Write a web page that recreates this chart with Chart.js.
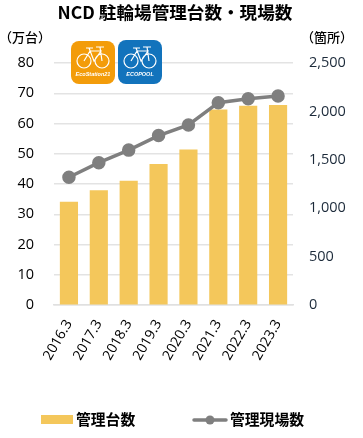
<!DOCTYPE html>
<html>
<head>
<meta charset="utf-8">
<style>
  html, body { margin: 0; padding: 0; background: #fff; }
  canvas { display: block; }
</style>
<script src="https://cdn.jsdelivr.net/npm/chart.js@4/dist/chart.umd.min.js"></script>
</head>
<body>
<canvas id="chart" width="363" height="438"></canvas>
<script>
const categories = ['2016.3', '2017.3', '2018.3', '2019.3', '2020.3', '2021.3', '2022.3', '2023.3'];
const managedUnits = [34, 37.8, 41, 46.5, 51.3, 64.5, 65.8, 66];   // 万台
const managedSites = [1320, 1470, 1600, 1750, 1860, 2090, 2130, 2160];   // 箇所
const titleText = 'NCD 駐輪場管理台数・現場数';
const leftUnit = '（万台）';
const rightUnit = '（箇所）';

const CJK = '"Noto Sans CJK JP", "Noto Sans", sans-serif';
const BAR_COLOR = '#f4c75b';
const LINE_COLOR = '#7f7f7f';

function roundedBox(ctx, x, y, w, h, r, color) {
  ctx.fillStyle = color;
  ctx.beginPath();
  ctx.roundRect(x, y, w, h, r);
  ctx.fill();
}

// Small white bicycle, used on both logos
function drawBike(ctx, x, y) {
  ctx.strokeStyle = '#fff';
  ctx.lineWidth = 1.2;
  ctx.beginPath();
  ctx.arc(x + 8, y + 15, 7, 0, Math.PI * 2);
  ctx.moveTo(x + 33, y + 15);
  ctx.arc(x + 26, y + 15, 7, 0, Math.PI * 2);
  ctx.moveTo(x + 8, y + 15);
  ctx.lineTo(x + 14, y + 5);
  ctx.lineTo(x + 25, y + 5);
  ctx.lineTo(x + 18, y + 15);
  ctx.lineTo(x + 13, y + 2);
  ctx.moveTo(x + 10, y + 2);
  ctx.lineTo(x + 17, y + 2);
  ctx.moveTo(x + 24, y + 1);
  ctx.lineTo(x + 26, y + 15);
  ctx.moveTo(x + 20, y + 1);
  ctx.lineTo(x + 28, y + 1);
  ctx.stroke();
}

const decorations = {
  id: 'decorations',
  afterDraw(chart) {
    const ctx = chart.ctx;
    ctx.save();
    ctx.textBaseline = 'middle';
    ctx.fillStyle = '#000';

    // title and axis units
    ctx.font = 'bold 17.6px ' + CJK;
    ctx.textAlign = 'center';
    ctx.fillText(titleText, 175, 12);
    ctx.font = '500 13px ' + CJK;
    ctx.fillText(leftUnit, 25, 37);
    ctx.fillText(rightUnit, 327, 37);

    // logos
    roundedBox(ctx, 71, 41, 44, 43, 8, '#f39c0a');
    roundedBox(ctx, 118, 40, 44, 44, 8, '#1273bc');
    drawBike(ctx, 76, 46);
    drawBike(ctx, 123, 46);
    ctx.fillStyle = '#fff';
    ctx.font = 'italic bold 5.5px "Liberation Sans", sans-serif';
    ctx.fillText('EcoStation21', 93, 74);
    ctx.fillText('ECOPOOL', 140, 74);

    // legend
    const sets = chart.data.datasets;
    ctx.fillStyle = BAR_COLOR;
    ctx.fillRect(41, 415, 32, 9);
    ctx.strokeStyle = LINE_COLOR;
    ctx.lineWidth = 3.5;
    ctx.lineCap = 'round';
    ctx.beginPath();
    ctx.moveTo(194, 420);
    ctx.lineTo(226, 420);
    ctx.stroke();
    ctx.fillStyle = LINE_COLOR;
    ctx.beginPath();
    ctx.arc(210, 420, 4.5, 0, Math.PI * 2);
    ctx.fill();
    ctx.fillStyle = '#000';
    ctx.textAlign = 'left';
    ctx.font = 'bold 14.8px ' + CJK;
    ctx.fillText(sets[1].label, 76, 419);
    ctx.fillText(sets[0].label, 230, 419);
    ctx.restore();
  }
};

new Chart(document.getElementById('chart').getContext('2d'), {
  type: 'bar',
  data: {
    labels: categories,
    datasets: [
      {
        type: 'line',
        label: '管理現場数',
        data: managedSites,
        yAxisID: 'right',
        borderColor: LINE_COLOR,
        backgroundColor: LINE_COLOR,
        borderWidth: 3.5,
        pointRadius: 5,
        pointHoverRadius: 5,
        tension: 0,
        order: 0
      },
      {
        type: 'bar',
        label: '管理台数',
        data: managedUnits,
        yAxisID: 'left',
        backgroundColor: BAR_COLOR,
        barThickness: 17.5,
        order: 1
      }
    ]
  },
  options: {
    responsive: false,
    animation: false,
    layout: { padding: { top: 63, left: 0, right: 0, bottom: 0 } },
    plugins: {
      legend: { display: false },
      title: { display: false },
      tooltip: { enabled: false }
    },
    scales: {
      x: {
        grid: { display: false, drawTicks: false },
        border: { color: '#e0e0e0', width: 1.5 },
        ticks: {
          color: '#000',
          font: { family: '"Open Sans", sans-serif', size: 14 },
          minRotation: 60,
          maxRotation: 60,
          padding: 12,
          autoSkip: false
        },
        afterFit(scale) { scale.height = 133; }
      },
      left: {
        position: 'left',
        min: 0,
        max: 80,
        grid: { color: '#e3e3e3', lineWidth: 1.5, drawTicks: false },
        border: { display: false },
        ticks: {
          stepSize: 10,
          color: '#000',
          padding: 20,
          font: { family: '"Open Sans", sans-serif', size: 14.5 }
        },
        afterFit(scale) { scale.width = 54; }
      },
      right: {
        position: 'right',
        min: 0,
        max: 2500,
        grid: { display: false, drawTicks: false },
        border: { display: false },
        ticks: {
          stepSize: 500,
          color: '#1c2a3a',
          padding: 16,
          font: { family: '"Open Sans", sans-serif', size: 14.5 },
          callback: value => value.toLocaleString('en-US')
        },
        afterFit(scale) { scale.width = 70; }
      }
    }
  },
  plugins: [decorations]
});
</script>
</body>
</html>
